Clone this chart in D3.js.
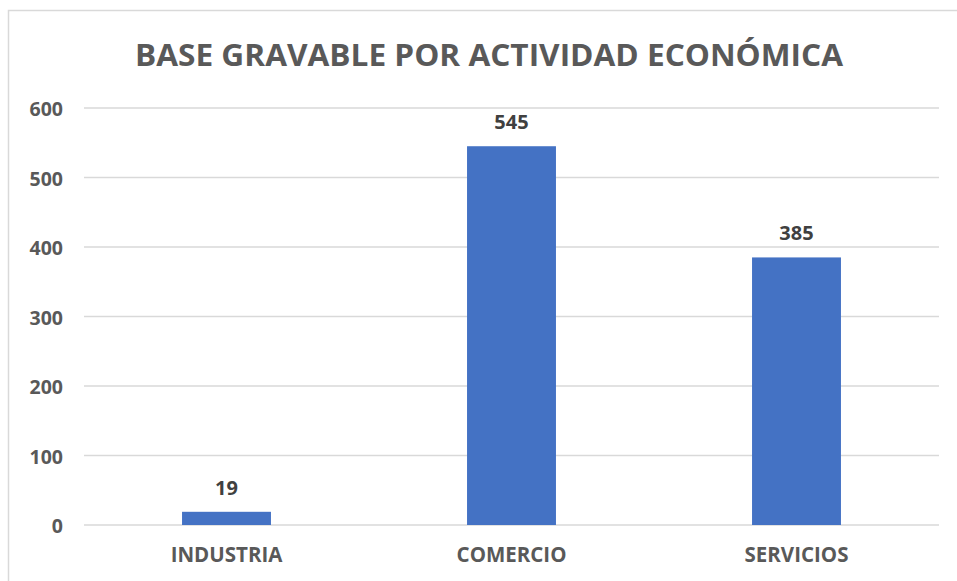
<!DOCTYPE html>
<html><head><meta charset="utf-8">
<script src="https://cdn.jsdelivr.net/npm/d3@7"></script>
<style>body{margin:0;background:#fff;} svg{display:block;}</style>
</head><body>
<svg id="c" width="957" height="581"></svg>
<script>
const categories = ["INDUSTRIA", "COMERCIO", "SERVICIOS"];
const values = [19, 545, 385];
const yTicks = [0, 100, 200, 300, 400, 500, 600];
const title = "BASE GRAVABLE POR ACTIVIDAD ECONÓMICA";

(function () {
const svg = d3.select("#c");
const font = "'Open Sans', 'Noto Sans', sans-serif";
// chart border
svg.append("rect").attr("x", 8.5).attr("y", 10.5).attr("width", 1000).attr("height", 1000)
  .attr("fill", "none").attr("stroke", "#d9d9d9").attr("stroke-width", 1.5);

const mLeft = 84, mRight = 939, mTop = 108, mBottom = 525;
const x = d3.scaleBand().domain(categories).range([mLeft, mRight]).padding(0);
const y = d3.scaleLinear().domain([0, 600]).range([mBottom, mTop]);

// gridlines
svg.append("g").selectAll("line").data(yTicks).join("line")
  .attr("x1", mLeft).attr("x2", mRight)
  .attr("y1", d => y(d)).attr("y2", d => y(d))
  .attr("stroke", "#d9d9d9").attr("stroke-width", 1.5);

// y axis labels
const yAxis = d3.axisLeft(y).tickValues(yTicks).tickSize(0).tickPadding(0);
const gy = svg.append("g").attr("transform", `translate(63,1)`).call(yAxis);
gy.select(".domain").remove();
gy.selectAll("text").attr("font-family", font).attr("font-size", 19.5).attr("font-weight", "bold")
  .attr("fill", "#595959").attr("dy", "0.35em");

// x axis labels
const xAxis = d3.axisBottom(x).tickSize(0).tickPadding(0);
const gx = svg.append("g").attr("transform", `translate(0,${mBottom + 22})`).call(xAxis);
gx.select(".domain").remove();
gx.selectAll("text").attr("font-family", font).attr("font-size", 20.5).attr("font-weight", "bold")
  .attr("fill", "#595959");

const bw = x.bandwidth() * 0.312;
svg.append("g").selectAll("rect").data(values).join("rect")
  .attr("x", (d, i) => x(categories[i]) + x.bandwidth() / 2 - bw / 2)
  .attr("width", bw)
  .attr("y", d => y(d)).attr("height", d => y(0) - y(d))
  .attr("fill", "#4472c4");

svg.append("g").selectAll("text").data(values).join("text")
  .attr("x", (d, i) => x(categories[i]) + x.bandwidth() / 2)
  .attr("y", d => y(d) - 17)
  .attr("text-anchor", "middle")
  .attr("font-family", font).attr("font-size", 20).attr("font-weight", "bold")
  .attr("fill", "#404040").text(d => d);

svg.append("text").attr("x", 489).attr("y", 66).attr("text-anchor", "middle")
  .attr("font-family", font).attr("font-size", 30).attr("font-weight", "bold")
  .attr("fill", "#595959").attr("textLength", 708).attr("lengthAdjust", "spacingAndGlyphs")
  .text(title);
})();
</script>
</body></html>
